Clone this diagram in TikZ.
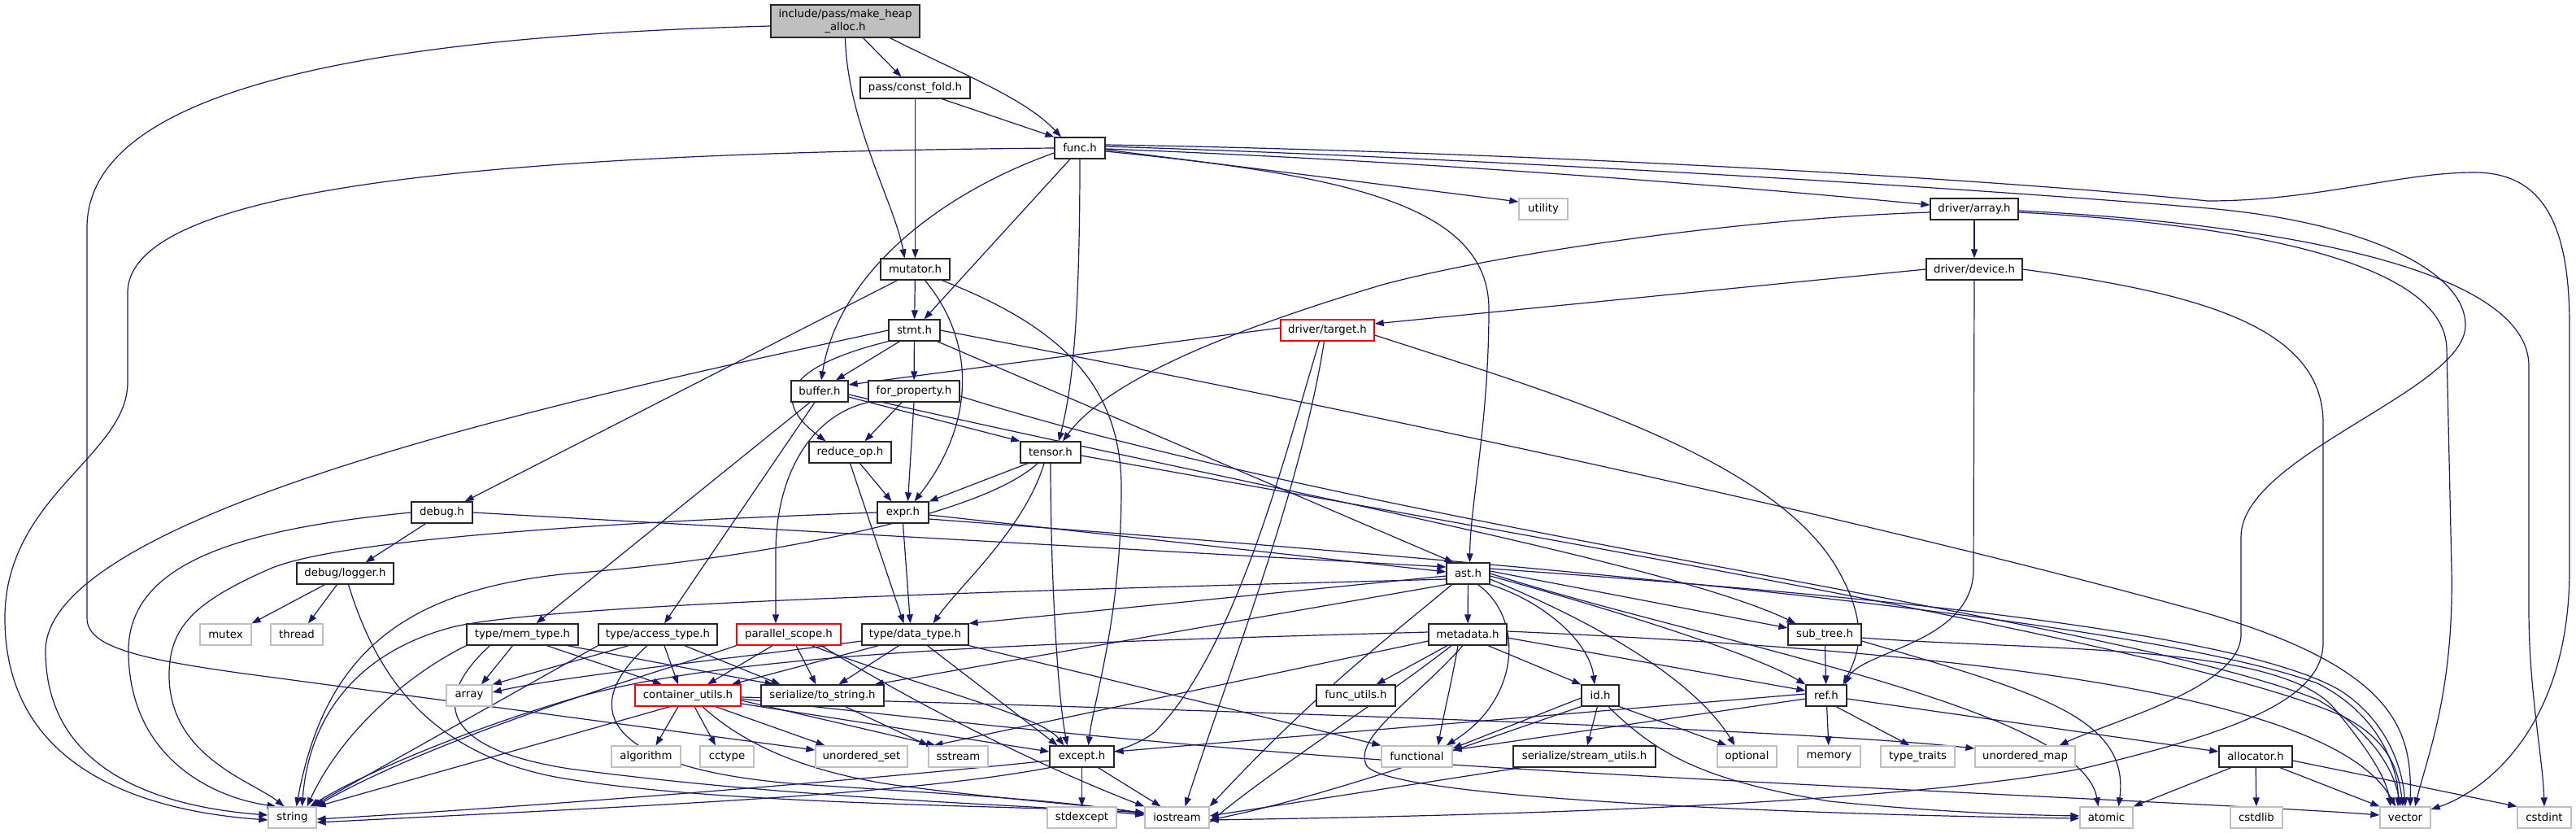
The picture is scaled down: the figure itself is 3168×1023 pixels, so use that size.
\documentclass[tikz,border=0pt]{standalone}
\usepackage{fontspec}
\setmainfont{DejaVu Sans}
\usetikzlibrary{arrows.meta}
\definecolor{mblue}{RGB}{25,25,112}
\definecolor{lgray}{RGB}{191,191,191}
\definecolor{dred}{RGB}{255,0,0}
\pgfdeclarelayer{bg}
\pgfsetlayers{bg,main}
\newcommand{\myfsz}{\fontsize{13.3}{15.5}\selectfont}
\begin{document}
\begin{tikzpicture}[x=1pt,y=-1pt,
  anybox/.style={draw, line width=1.3pt, fill=white, minimum height=26pt, inner sep=0pt, font=\myfsz, anchor=center},
  nbox/.style={anybox, draw=black!85},
  gbox/.style={anybox, draw=lgray},
  rbox/.style={anybox, draw=dred},
  topbox/.style={anybox, draw=black!85, fill=lgray, minimum height=40pt, align=center},
  ed/.style={draw=mblue, line width=1.2pt, -{Triangle[length=11pt,width=8pt]}}]
\useasboundingbox (0,0) rectangle (3168,1023);
% nodes
\node[topbox, minimum width=183] (mha) at (1039.5,26) {include/pass/make\_heap\\\_alloc.h};
\node[nbox, minimum width=135] (cf) at (1125.5,108) {pass/const\_fold.h};
\node[nbox, minimum width=62] (func) at (1328,182) {func.h};
\node[gbox, minimum width=60] (utility) at (1898,257) {utility};
\node[nbox, minimum width=108] (array) at (2428,257) {driver/array.h};
\node[nbox, minimum width=85] (mutator) at (1125.5,331) {mutator.h};
\node[nbox, minimum width=118] (device) at (2428,331) {driver/device.h};
\node[nbox, minimum width=63] (stmt) at (1124.5,406) {stmt.h};
\node[rbox, minimum width=115] (target) at (1632.5,406) {driver/target.h};
\node[nbox, minimum width=70] (buffer) at (1008,481) {buffer.h};
\node[nbox, minimum width=112] (forprop) at (1124,481) {for\_property.h};
\node[nbox, minimum width=101] (reduce) at (1045.5,556) {reduce\_op.h};
\node[nbox, minimum width=74] (tensor) at (1292,556) {tensor.h};
\node[nbox, minimum width=75] (debug) at (543.5,630) {debug.h};
\node[nbox, minimum width=63] (expr) at (1110.5,630) {expr.h};
\node[nbox, minimum width=119] (logger) at (424.5,705) {debug/logger.h};
\node[nbox, minimum width=53] (ast) at (1805.5,705) {ast.h};
\node[gbox, minimum width=63] (mutex) at (277.5,780) {mutex};
\node[gbox, minimum width=64] (thread) at (365,780) {thread};
\node[nbox, minimum width=137] (memtype) at (642.5,780) {type/mem\_type.h};
\node[nbox, minimum width=146] (access) at (809,780) {type/access\_type.h};
\node[rbox, minimum width=128] (pscope) at (970,780) {parallel\_scope.h};
\node[nbox, minimum width=131] (dtype) at (1125.5,780) {type/data\_type.h};
\node[nbox, minimum width=96] (metadata) at (1805,780) {metadata.h};
\node[nbox, minimum width=90] (subtree) at (2244,780) {sub\_tree.h};
\node[gbox, minimum width=56] (arr) at (577,855) {array};
\node[rbox, minimum width=130] (cu) at (846,855) {container\_utils.h};
\node[nbox, minimum width=151] (tostr) at (1011.5,855) {serialize/to\_string.h};
\node[nbox, minimum width=97] (futils) at (1667.5,855) {func\_utils.h};
\node[nbox, minimum width=46] (id) at (1968,855) {id.h};
\node[nbox, minimum width=50] (ref) at (2246,855) {ref.h};
\node[gbox, minimum width=85] (algorithm) at (794.5,930) {algorithm};
\node[gbox, minimum width=66] (cctype) at (894,930) {cctype};
\node[gbox, minimum width=113] (uset) at (1059.5,930) {unordered\_set};
\node[gbox, minimum width=73] (sstream) at (1178.5,930) {sstream};
\node[nbox, minimum width=79] (except) at (1330.5,930) {except.h};
\node[gbox, minimum width=87] (functional) at (1742.5,930) {functional};
\node[nbox, minimum width=175] (sutils) at (1948.5,930) {serialize/stream\_utils.h};
\node[gbox, minimum width=73] (optional) at (2148.5,930) {optional};
\node[gbox, minimum width=77] (memory) at (2249.5,930) {memory};
\node[gbox, minimum width=91] (typetraits) at (2358.5,930) {type\_traits};
\node[gbox, minimum width=123] (umap) at (2490.5,930) {unordered\_map};
\node[nbox, minimum width=90] (allocator) at (2774,930) {allocator.h};
\node[gbox, minimum width=59] (string) at (359.5,1005) {string};
\node[gbox, minimum width=85] (stdexcept) at (1330.5,1005) {stdexcept};
\node[gbox, minimum width=79] (iostream) at (1447.5,1005) {iostream};
\node[gbox, minimum width=65] (atomic) at (2590.5,1005) {atomic};
\node[gbox, minimum width=64] (cstdlib) at (2775,1005) {cstdlib};
\node[gbox, minimum width=62] (vector) at (2958,1005) {vector};
\node[gbox, minimum width=66] (cstdint) at (3129,1005) {cstdint};

\begin{pgfonlayer}{bg}
\fill[white] (0,0) rectangle (3168,1023);
% make_heap_alloc
\draw[ed] ([xshift=22]mha.south) -- ([xshift=-17]cf.north);
\draw[ed] ([xshift=55]mha.south) .. controls (1180,90) and (1260,120) .. ([xshift=-23]func.north);
\draw[ed] (mha.south) .. controls (1042,150) and (1100,250) .. ([xshift=-13]mutator.north);
\draw[ed] ([yshift=-6]mha.west) .. controls (450,45) and (107,110) .. (107,280) -- (107,760) .. controls (107,795) and (170,810) .. (300,828) -- ([yshift=8]uset.west);
% const_fold
\draw[ed] ([xshift=33]cf.south) -- (func.north west);
\draw[ed] (cf.south) -- (mutator.north);
% func
\draw[ed] (func.west) .. controls (600,188) and (157,230) .. (157,360) -- (157,470) .. controls (157,560) and (6,610) .. (6,760) .. controls (6,930) and (150,995) .. ([yshift=-3]string.west);
\draw[ed] ([yshift=-6]func.west) .. controls (1150,240) and (1030,340) .. ([xshift=2]buffer.north);
\draw[ed] ([xshift=-12]func.south) -- ([xshift=12]stmt.north);
\draw[ed] (func.south) .. controls (1328,400) and (1318,480) .. ([xshift=10]tensor.north);
\draw[ed] ([yshift=-4]func.east) .. controls (1650,215) and (1831,250) .. (1831,380) .. controls (1831,520) and (1808,620) .. ([xshift=2]ast.north);
\draw[ed] ([yshift=-2]func.east) -- ([yshift=9]utility.west);
\draw[ed] ([yshift=-1]func.east) .. controls (1800,200) and (2200,235) .. ([yshift=5]array.west);
\draw[ed] ([yshift=4]func.east) .. controls (1800,185) and (2400,215) .. (2715,247) .. controls (2850,247) and (2950,212) .. (3043,212) .. controls (3130,212) and (3160,280) .. (3160,400) -- (3160,700) .. controls (3160,900) and (3050,975) .. ([yshift=10]vector.east);
\draw[ed] ([yshift=2]func.east) .. controls (1750,192) and (2350,225) .. (2715,256) .. controls (2900,272) and (3032,330) .. (3032,400) .. controls (3032,480) and (2756,560) .. (2756,660) -- (2756,780) .. controls (2756,845) and (2600,885) .. ([xshift=42]umap.north);
% mutator
\draw[ed] (mutator) -- (stmt);
\draw[ed] ([xshift=-22]mutator.south) -- ([xshift=-10]debug.north east);
\draw[ed] ([xshift=12]mutator.south) .. controls (1200,420) and (1200,520) .. ([xshift=14]expr.north);
\draw[ed] ([xshift=33]mutator.south) .. controls (1300,400) and (1379,470) .. (1379,600) .. controls (1379,760) and (1345,860) .. ([xshift=8]except.north);
% driver/array
\draw[ed] (array) -- (device);
\draw[ed] ([yshift=-4]array.west) .. controls (2150,268) and (1850,310) .. (1700,350) .. controls (1500,410) and (1360,470) .. ([xshift=15]tensor.north);
\draw[ed] ([yshift=-4]array.east) .. controls (2750,275) and (3009,320) .. (3009,430) -- (3015,700) .. controls (3018,850) and (2985,930) .. ([xshift=12]vector.north);
\draw[ed] ([yshift=-2]array.east) .. controls (2800,275) and (3110,330) .. (3110,450) -- (3110,750) .. controls (3110,850) and (3127,930) .. (cstdint.north);
% driver/device
\draw[ed] (device.west) -- ([yshift=8]target.east);
\draw[ed] (device.south) -- (2427,700) .. controls (2427,790) and (2290,800) .. ([xshift=-3]ref.north east);
\draw[ed] (device.east) .. controls (2700,360) and (2857,400) .. (2857,520) -- (2857,790) .. controls (2857,860) and (2750,900) .. (2560,945) .. controls (2300,992) and (1800,1003) .. ([yshift=-3]iostream.east);
% stmt
\draw[ed] (stmt.west) .. controls (800,470) and (56,620) .. (56,800) .. controls (56,950) and (200,992) .. ([yshift=3]string.west);
\draw[ed] (stmt.south west) .. controls (970,450) and (945,490) .. ([xshift=-30]reduce.north);
\draw[ed] ([xshift=-18]stmt.south) -- ([xshift=20]buffer.north);
\draw[ed] (stmt) -- (forprop);
\draw[ed] ([xshift=28]stmt.south) -- ([xshift=-18]ast.north);
\draw[ed] (stmt.east) .. controls (1700,510) and (2300,640) .. (2700,750) .. controls (2950,820) and (2966,900) .. ([xshift=6]vector.north);
% driver/target
\draw[ed] ([yshift=3]target.west) -- ([yshift=8]buffer.east);
\draw[ed] ([xshift=-10]target.south) .. controls (1580,560) and (1520,800) .. (1420,900) .. controls (1330,970) and (900,985) .. ([yshift=-6]string.east);
\draw[ed] ([xshift=-4]target.south) .. controls (1600,600) and (1520,800) .. ([xshift=10]iostream.north);
\draw[ed] ([yshift=-6]target.east) .. controls (1900,480) and (2180,560) .. (2260,700) .. controls (2300,770) and (2285,805) .. ([xshift=-5]ref.north east);
% buffer
\draw[ed] ([xshift=-12]buffer.south) -- ([xshift=17]memtype.north);
\draw[ed] ([xshift=-6]buffer.south) -- ([xshift=8]access.north);
\draw[ed] ([yshift=-7]buffer.east) -- (tensor.north west);
\draw[ed] ([yshift=-4]buffer.east) .. controls (1500,590) and (2050,690) .. ([xshift=10]subtree.north west);
% for_property
\draw[ed] ([xshift=-15]forprop.south) -- ([xshift=18]reduce.north);
\draw[ed] (forprop.south) -- ([xshift=6]expr.north);
\draw[ed] (forprop.south west) .. controls (1000,510) and (954,580) .. (954,680) -- ([xshift=-16]pscope.north);
\draw[ed] ([yshift=-6]forprop.east) .. controls (1700,650) and (2600,760) .. (2850,860) .. controls (2920,900) and (2945,950) .. ([xshift=-6]vector.north);
% reduce_op
\draw[ed] ([xshift=12]reduce.south) -- ([xshift=-14]expr.north);
\draw[ed] (reduce.south) -- ([xshift=-14]dtype.north);
% tensor
\draw[ed] ([xshift=-28]tensor.south) -- (expr.north east);
\draw[ed] ([xshift=-16]tensor.south) .. controls (1200,640) and (900,690) .. (700,705) .. controls (500,725) and (400,800) .. ([xshift=5]string.north);
\draw[ed] ([xshift=-8]tensor.south) .. controls (1260,650) and (1180,720) .. ([xshift=22]dtype.north);
\draw[ed] (tensor.south) .. controls (1292,700) and (1300,850) .. ([xshift=-18]except.north);
\draw[ed] ([yshift=-4]tensor.east) .. controls (2000,680) and (2700,800) .. (2880,880) .. controls (2940,910) and (2950,950) .. ([xshift=-3]vector.north);
% debug
\draw[ed] (debug.west) .. controls (300,650) and (158,690) .. (158,800) .. controls (158,930) and (260,980) .. ([xshift=-20]string.north);
\draw[ed] ([xshift=-20]debug.south) -- ([xshift=25]logger.north);
\draw[ed] (debug.east) -- ([yshift=8]ast.west);
% expr
\draw[ed] (expr.west) .. controls (800,640) and (420,660) .. (330,700) .. controls (240,740) and (208,770) .. (208,830) .. controls (208,930) and (310,960) .. ([xshift=-10]string.north);
\draw[ed] ([yshift=-3]expr.east) -- ([yshift=2]ast.west);
\draw[ed] (expr.south) -- ([xshift=-6]dtype.north);
\draw[ed] ([yshift=-8]expr.east) .. controls (1700,680) and (2600,750) .. (2850,840) .. controls (2930,880) and (2950,950) .. ([xshift=-9]vector.north);
% logger
\draw[ed] ([xshift=-25]logger.south) -- (mutex.north east);
\draw[ed] ([xshift=-10]logger.south) -- ([xshift=14]thread.north);
\draw[ed] ([xshift=4]logger.south) .. controls (460,820) and (520,930) .. (700,958) .. controls (900,990) and (1250,990) .. ([yshift=6]iostream.west);
% ast
\draw[ed] ([yshift=-7]ast.west) .. controls (1300,725) and (700,740) .. (560,770) .. controls (440,800) and (380,880) .. ([xshift=12]string.north);
\draw[ed] ([yshift=-3]ast.west) -- (dtype.north east);
\draw[ed] (ast.south west) -- ([xshift=-12]tostr.north east);
\draw[ed] (ast) -- (metadata);
\draw[ed] (ast.south east) .. controls (1900,740) and (1955,790) .. ([xshift=-7]id.north);
\draw[ed] ([xshift=12]ast.south) .. controls (1875,760) and (1870,860) .. ([xshift=-8]functional.north east);
\draw[ed] ([xshift=-20]ast.south) .. controls (1700,790) and (1620,850) .. (iostream.north east);
\draw[ed] ([yshift=3]ast.east) -- (subtree.170);
\draw[ed] ([yshift=-3]ast.east) .. controls (1950,740) and (2150,800) .. (ref.north west);
\draw[ed] ([yshift=-7]ast.east) .. controls (1950,760) and (2080,830) .. ([xshift=-15]optional.north);
\draw[ed] (ast.east) .. controls (2100,790) and (2560,870) .. ([xshift=-10]atomic.north);
\draw[ed] ([yshift=6]ast.east) .. controls (2200,725) and (2750,770) .. (2880,850) .. controls (2940,890) and (2955,950) .. (vector.north);
% metadata
\draw[ed] ([xshift=-12]metadata.south) .. controls (1785,840) and (1775,880) .. ([xshift=-18]functional.north east);
\draw[ed] ([xshift=-25]metadata.south) -- ([xshift=25]futils.north);
\draw[ed] ([xshift=25]metadata.south) -- (id.north west);
\draw[ed] ([yshift=3]metadata.west) .. controls (1300,790) and (900,800) .. (700,860) .. controls (550,905) and (430,960) .. ([xshift=22]string.north);
\draw[ed] ([yshift=-8]metadata.west) -- ([xshift=-30]sstream.north);
\draw[ed] ([xshift=-20]metadata.south) .. controls (1700,860) and (1560,950) .. ([yshift=-6]iostream.east);
\draw[ed] ([xshift=-6]metadata.south) .. controls (1740,860) and (1665,905) .. (1680,940) .. controls (1700,985) and (2300,1003) .. ([yshift=-1]atomic.west);
\draw[ed] ([yshift=-4]metadata.east) -- ([yshift=6]ref.west);
\draw[ed] ([yshift=4]metadata.east) .. controls (2400,800) and (2870,850) .. ([xshift=-12]vector.north);
% id
\draw[ed] ([yshift=-3]id.west) -- ([yshift=10]functional.east);
\draw[ed] (id.south west) .. controls (1850,900) and (1650,975) .. ([yshift=-3]iostream.east);
\draw[ed] (id) -- (sutils);
\draw[ed] (id.south east) -- ([xshift=-25]optional.north);
\draw[ed] ([xshift=10]id.south) .. controls (2040,930) and (2100,960) .. (2250,985) .. controls (2400,1000) and (2500,1002) .. ([yshift=2]atomic.west);
% stream_utils
\draw[ed] ([xshift=10]sutils.south west) -- ([yshift=2]iostream.east);
% sub_tree
\draw[ed] (subtree) -- (ref);
\draw[ed] ([yshift=-4]subtree.east) .. controls (2500,800) and (2800,790) .. (2870,870) .. controls (2920,930) and (2935,960) .. ([xshift=-18]vector.north);
\draw[ed] ([yshift=-8]subtree.east) .. controls (2500,850) and (2620,880) .. ([xshift=15]atomic.north);
% ref
\draw[ed] (ref) -- (memory);
\draw[ed] ([xshift=12]ref.south) -- ([xshift=-10]typetraits.north);
\draw[ed] ([yshift=-4]ref.east) -- ([yshift=6]allocator.west);
\draw[ed] ([yshift=-4]ref.west) -- ([yshift=8]functional.east);
\draw[ed] ([yshift=2]ref.west) -- ([yshift=6]except.east);
% allocator
\draw[ed] ([xshift=-30]allocator.south) -- (atomic.north east);
\draw[ed] (allocator) -- (cstdlib);
\draw[ed] ([xshift=30]allocator.south) -- (vector.north west);
\draw[ed] ([yshift=-5]allocator.east) -- (cstdint.north west);
% container_utils
\draw[ed] ([xshift=-12]cu.south) -- ([xshift=12]algorithm.north);
\draw[ed] ([xshift=8]cu.south) -- ([xshift=-14]cctype.north);
\draw[ed] ([xshift=-22]cu.south) -- (string.north east);
\draw[ed] ([xshift=34]cu.south) -- ([xshift=-45]uset.north);
\draw[ed] ([yshift=-6]cu.east) -- ([xshift=-28]sstream.north);
\draw[ed] ([yshift=-10]cu.east) -- ([yshift=6]except.west);
\draw[ed] ([xshift=18]cu.south) .. controls (920,920) and (1000,950) .. (1100,965) .. controls (1250,985) and (1350,990) .. ([yshift=5]iostream.west);
\draw[ed] ([yshift=-4]cu.east) .. controls (1200,890) and (1500,925) .. (1950,950) .. controls (2400,975) and (2800,992) .. ([yshift=3]vector.west);
\draw[ed] ([yshift=-2]cu.east) .. controls (1400,870) and (2200,895) .. ([yshift=10]umap.west);
% to_string
\draw[ed] ([xshift=28]tostr.south) -- (sstream.north west);
% except
\draw[ed] ([yshift=-5]except.west) .. controls (1000,965) and (600,995) .. ([yshift=-2]string.east);
\draw[ed] (except) -- (stdexcept);
\draw[ed] ([xshift=20]except.south) -- ([xshift=-20]iostream.north);
% parallel_scope
\draw[ed] (pscope.south west) .. controls (800,830) and (550,900) .. ([xshift=28]string.north);
\draw[ed] ([xshift=-20]pscope.south) -- ([xshift=24]cu.north);
\draw[ed] ([xshift=9]pscope.south) -- ([xshift=-8]tostr.north);
\draw[ed] ([xshift=28]pscope.south) .. controls (1150,850) and (1280,880) .. ([xshift=-22]except.north);
\draw[ed] ([xshift=40]pscope.south) .. controls (1150,880) and (1300,950) .. (iostream.north west);
% data_type
\draw[ed] ([yshift=-8]dtype.west) .. controls (900,810) and (700,830) .. ([yshift=4]arr.east);
\draw[ed] ([xshift=-45]dtype.south) -- ([xshift=-12]cu.north east);
\draw[ed] ([xshift=-20]dtype.south) -- ([xshift=20]tostr.north);
\draw[ed] ([xshift=15]dtype.south) -- ([xshift=-30]except.north);
\draw[ed] (dtype.south east) -- (functional.north west);
% mem_type
\draw[ed] (memtype.south west) .. controls (500,830) and (420,900) .. ([xshift=18]string.north);
\draw[ed] ([xshift=-12]memtype.south) -- ([xshift=15]arr.north);
\draw[ed] ([xshift=30]memtype.south) -- ([xshift=-32]cu.north);
\draw[ed] ([xshift=55]memtype.south) -- ([xshift=-60]tostr.north);
\draw[ed] ([xshift=-40]memtype.south) .. controls (530,860) and (540,920) .. (700,945) .. controls (1000,985) and (1300,990) .. ([yshift=3]iostream.west);
% access_type
\draw[ed] (access.south west) -- ([xshift=24]string.north);
\draw[ed] ([xshift=-36]access.south) -- (arr.north east);
\draw[ed] ([xshift=8]access.south) -- ([xshift=-12]cu.north);
\draw[ed] ([xshift=33]access.south) -- ([xshift=-52]tostr.north);
\draw[ed] ([xshift=-13]access.south) .. controls (700,880) and (760,950) .. (1000,965) .. controls (1200,978) and (1320,985) .. ([yshift=4]iostream.west);
\end{pgfonlayer}
\end{tikzpicture}
\end{document}
